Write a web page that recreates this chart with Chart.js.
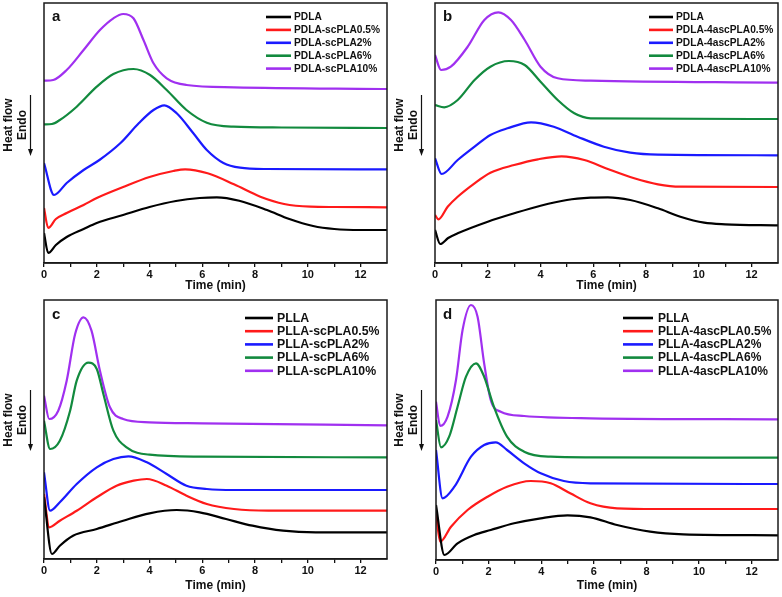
<!DOCTYPE html>
<html>
<head>
<meta charset="utf-8">
<script src="https://cdn.jsdelivr.net/npm/chart.js@4.4.1/dist/chart.umd.min.js"></script>
<style>
  html, body { margin: 0; padding: 0; background: #fff; }
  #wrap { position: relative; width: 782px; height: 597px; overflow: hidden; }
  .panel { position: absolute; }
</style>
</head>
<body>
<div id="wrap">
  <div class="panel" style="left:0;top:0;width:391px;height:297px"><canvas id="ca" width="391" height="297"></canvas></div>
  <div class="panel" style="left:391px;top:0;width:391px;height:297px"><canvas id="cb" width="391" height="297"></canvas></div>
  <div class="panel" style="left:0;top:297px;width:391px;height:300px"><canvas id="cc" width="391" height="300"></canvas></div>
  <div class="panel" style="left:391px;top:297px;width:391px;height:300px"><canvas id="cd" width="391" height="300"></canvas></div>
</div>
<script>
// ---------- Data (time in min, heat flow in arbitrary units) ----------
const xTickValues = [0, 2, 4, 6, 8, 10, 12];
const seriesColors = ['#000000', '#ff1a1a', '#1a1aff', '#128a3e', '#a030f0'];

// Panel a
const aLabels = ['PDLA', 'PDLA-scPLA0.5%', 'PDLA-scPLA2%', 'PDLA-scPLA6%', 'PDLA-scPLA10%'];
const a0_t = [0, 0.16, 0.45, 0.86, 1.5, 2, 3, 4, 5, 5.9, 6.55, 7.4, 8.45, 9.3, 10.2, 11, 12, 13];
const a0_v = [30, 10, 18, 26, 34, 40, 48, 56, 62, 65, 65.7, 62.3, 53, 44, 37, 34, 33, 33];
const a1_t = [0, 0.16, 0.45, 0.86, 1.5, 2, 3, 4, 4.9, 5.35, 6.2, 7.2, 8.2, 9.1, 10.1, 11, 13];
const a1_v = [55, 35, 44, 50, 58, 65, 76, 86, 92, 93.7, 89.7, 78.7, 66.3, 59, 56.3, 56, 55.7];
const a2_t = [0, 0.38, 0.86, 1.5, 2.1, 2.9, 3.6, 4.15, 4.56, 5.03, 5.66, 6.17, 6.8, 7.43, 8.4, 13];
const a2_v = [100, 68, 80, 93, 103, 120, 140, 153, 157.7, 149.7, 129.7, 113, 100, 95.3, 94, 93.7];
const a3_t = [0, 0.3, 0.6, 1.24, 2, 2.63, 3.39, 4.02, 4.65, 5.4, 6.17, 7.18, 9, 13];
const a3_v = [138.7, 139, 143, 156.3, 176.3, 189, 194, 188, 173, 153, 140.3, 136.3, 135.5, 135];
const a4_t = [0, 0.35, 0.86, 1.5, 2.12, 2.63, 3.0, 3.39, 3.77, 4.15, 4.65, 5.4, 7.2, 13];
const a4_v = [182.3, 183, 193, 213, 233, 244.7, 249, 244.7, 223, 199.7, 184.7, 178, 175.7, 174];

// Panel b
const bLabels = ['PDLA', 'PDLA-4ascPLA0.5%', 'PDLA-4ascPLA2%', 'PDLA-4ascPLA6%', 'PDLA-4ascPLA10%'];
const b0_t = [0, 0.2, 0.5, 0.86, 2, 3, 4, 5, 5.9, 6.55, 7.4, 8.45, 9.3, 10.2, 11, 13];
const b0_v = [33, 19, 25, 29.7, 41.3, 49.7, 57.3, 63, 65.3, 65.7, 63, 54.7, 46.3, 40.3, 38.7, 37.7];
const b1_t = [0, 0.13, 0.48, 0.86, 1.5, 2.1, 3, 3.9, 4.8, 5.66, 6.55, 7.55, 8.45, 9.3, 13];
const b1_v = [48, 43.7, 56.3, 66.3, 79.7, 90.3, 98, 103.7, 106.7, 103, 94, 84.7, 78.7, 76.3, 76];
const b2_t = [0, 0.25, 0.86, 1.5, 2.1, 2.75, 3.64, 4.5, 5.4, 6.4, 7.4, 8.45, 13];
const b2_v = [104.7, 89, 103, 116.3, 128, 134.7, 140.7, 136.3, 126.3, 116.3, 110.3, 108.3, 107.7];
const b3_t = [0, 0.35, 0.86, 1.5, 2.1, 2.8, 3.4, 4, 4.65, 5.28, 5.9, 13];
const b3_v = [158, 155.7, 163, 183, 196.3, 202, 198, 181.3, 163, 149.7, 144.7, 144];
const b4_t = [0, 0.23, 0.6, 1.24, 1.87, 2.4, 2.88, 3.4, 4, 4.65, 5.9, 13];
const b4_v = [208, 193, 196.3, 216.3, 243, 250.7, 243, 223, 196.3, 184.7, 182.3, 180.3];

// Panel c
const cLabels = ['PLLA', 'PLLA-scPLA0.5%', 'PLLA-scPLA2%', 'PLLA-scPLA6%', 'PLLA-scPLA10%'];
const c0_t = [0, 0.3, 0.6, 1.1, 2, 3, 4, 5.03, 5.9, 6.9, 7.9, 9.06, 10.3, 13];
const c0_v = [62, 5, 13.3, 23.3, 30, 38.3, 45.7, 49, 46.7, 40, 33.3, 28.3, 26.7, 26.7];
const c1_t = [0, 0.2, 0.6, 1.24, 2, 2.75, 3.4, 3.9, 4.65, 5.4, 6.17, 7.2, 8.5, 13];
const c1_v = [65, 31.7, 38.3, 48.3, 61.7, 73.3, 78.3, 80, 73.3, 63.3, 55, 50, 48.3, 48.3];
const c2_t = [0, 0.23, 0.6, 1.24, 2, 2.63, 3.2, 3.9, 4.65, 5.4, 6.17, 7.2, 13];
const c2_v = [86.7, 48.3, 56.7, 75, 91.7, 100, 102.7, 96.7, 85, 73.3, 70, 69, 69];
const c3_t = [0, 0.23, 0.6, 0.99, 1.24, 1.68, 2, 2.25, 2.63, 3.13, 4, 5.9, 13];
const c3_v = [138.3, 110, 118.3, 148.3, 178.3, 196.3, 190, 165, 128.3, 111.7, 104.3, 102.3, 101.7];
const c4_t = [0, 0.2, 0.54, 0.86, 1.18, 1.5, 1.8, 2.12, 2.5, 3, 4, 6, 13];
const c4_v = [163.3, 140, 148.3, 178.3, 225, 241.7, 228.3, 188.3, 151.7, 140, 136.7, 135.7, 133.7];

// Panel d
const dLabels = ['PLLA', 'PLLA-4ascPLA0.5%', 'PLLA-4ascPLA2%', 'PLLA-4ascPLA6%', 'PLLA-4ascPLA10%'];
const d0_t = [0, 0.32, 0.82, 1.45, 2.08, 2.97, 3.98, 5, 5.87, 6.88, 8.14, 9.4, 13];
const d0_v = [55, 5, 16.7, 25, 30, 36.7, 41.7, 44.7, 42.7, 35, 28.3, 25.7, 24.7];
const d1_t = [0, 0.16, 0.57, 1.2, 1.96, 2.7, 3.6, 4.36, 5.1, 5.87, 6.88, 8.4, 13];
const d1_v = [46.7, 18.3, 33.3, 50, 63.3, 73.3, 79, 76.7, 66.7, 56.7, 51.7, 51, 51];
const d2_t = [0, 0.25, 0.7, 1.33, 1.83, 2.27, 2.7, 3.35, 3.98, 4.86, 5.87, 13];
const d2_v = [110, 61.7, 73.3, 103.3, 115, 117.7, 110, 96.7, 86.7, 79, 76.7, 76];
const d3_t = [0, 0.19, 0.5, 0.82, 1.14, 1.52, 1.83, 2.2, 2.7, 3.35, 4.36, 5.87, 13];
const d3_v = [140, 112.7, 123.3, 153.3, 183.3, 196.7, 183.3, 153.3, 123.3, 108.3, 103.3, 102.7, 102.3];
const d4_t = [0, 0.16, 0.44, 0.76, 1.01, 1.33, 1.58, 1.83, 2.08, 2.46, 3.35, 5.87, 13];
const d4_v = [158.3, 134, 143.3, 180, 230, 255, 243.3, 196.7, 160, 148.3, 144, 141.7, 140.7];

// ---------- Helpers ----------
function pts(t, v) { return t.map((x, i) => ({ x: x, y: v[i] })); }
function makeDatasets(labels, series) {
  return series.map((s, i) => ({
    label: labels[i],
    data: pts(s[0], s[1]),
    borderColor: seriesColors[i],
    backgroundColor: seriesColors[i],
    borderWidth: 2.2,
    pointRadius: 0,
    fill: false,
    cubicInterpolationMode: 'monotone'
  }));
}

const framePlugin = {
  id: 'frame',
  afterDraw(chart) {
    const { ctx, chartArea: ca } = chart;
    ctx.save();
    ctx.strokeStyle = '#1a1a1a';
    ctx.lineWidth = 1.5;
    ctx.strokeRect(ca.left, ca.top, ca.right - ca.left, ca.bottom - ca.top);
    ctx.restore();
  }
};

const decoPlugin = {
  id: 'deco',
  afterDraw(chart, args, o) {
    const ctx = chart.ctx;
    ctx.save();
    // inner legend
    chart.data.datasets.forEach((ds, i) => {
      const y = o.y0 + i * o.dy;
      ctx.strokeStyle = ds.borderColor;
      ctx.lineWidth = 2.6;
      ctx.beginPath();
      ctx.moveTo(o.x1, y);
      ctx.lineTo(o.x2, y);
      ctx.stroke();
      ctx.fillStyle = '#111';
      ctx.font = o.font;
      ctx.textBaseline = 'middle';
      ctx.textAlign = 'left';
      ctx.fillText(ds.label, o.tx, y + 0.5);
    });
    // panel letter
    ctx.fillStyle = '#111';
    ctx.font = 'bold 15px Arial, "Liberation Sans", sans-serif';
    ctx.textBaseline = 'alphabetic';
    ctx.fillText(o.letter, o.lx, o.ly);
    // y axis label with arrow
    ctx.save();
    ctx.translate(8.5, o.yc);
    ctx.rotate(-Math.PI / 2);
    ctx.textAlign = 'center';
    ctx.textBaseline = 'middle';
    ctx.font = 'bold 12px Arial, "Liberation Sans", sans-serif';
    ctx.fillText('Heat flow', 0, 0);
    ctx.fillText('Endo', 0, 14);
    ctx.restore();
    ctx.strokeStyle = '#111';
    ctx.lineWidth = 1.2;
    ctx.beginPath();
    ctx.moveTo(30.5, o.yc - 30);
    ctx.lineTo(30.5, o.yc + 26);
    ctx.stroke();
    ctx.fillStyle = '#111';
    ctx.beginPath();
    ctx.moveTo(28, o.yc + 24);
    ctx.lineTo(33, o.yc + 24);
    ctx.lineTo(30.5, o.yc + 31);
    ctx.closePath();
    ctx.fill();
    ctx.restore();
  }
};

function makeChart(id, labels, series, cfg) {
  return new Chart(document.getElementById(id), {
    type: 'line',
    data: { datasets: makeDatasets(labels, series) },
    options: {
      responsive: false,
      animation: false,
      devicePixelRatio: 1,
      layout: { padding: { top: cfg.padTop, right: cfg.padRight, left: 0, bottom: 0 } },
      scales: {
        x: {
          type: 'linear',
          min: 0, max: 13,
          afterFit: (s) => { s.height = cfg.xHeight; },
          afterBuildTicks: (s) => {
            const arr = [];
            for (let i = 0; i <= 12; i++) arr.push({ value: i });
            s.ticks = arr;
          },
          ticks: {
            autoSkip: false,
            maxRotation: 0,
            padding: 1,
            color: '#111',
            font: { family: 'Arial, "Liberation Sans", sans-serif', size: 11, weight: 'bold' },
            callback: (v) => (xTickValues.includes(v) ? String(v) : '')
          },
          grid: { drawOnChartArea: false, drawTicks: true, tickLength: 4, color: '#111', tickColor: '#111', lineWidth: 1.3 },
          border: { display: true, color: '#1a1a1a', width: 1.5 },
          title: {
            display: true,
            text: 'Time (min)',
            color: '#111',
            padding: { top: 0, bottom: cfg.titlePad },
            font: { family: 'Arial, "Liberation Sans", sans-serif', size: 12, weight: 'bold' }
          }
        },
        y: {
          type: 'linear',
          min: 0, max: cfg.yMax,
          afterFit: (s) => { s.width = cfg.yWidth; },
          ticks: { display: false },
          grid: { display: false },
          border: { display: false }
        }
      },
      plugins: {
        legend: { display: false },
        tooltip: { enabled: false },
        deco: cfg.deco
      }
    },
    plugins: [framePlugin, decoPlugin]
  });
}

const bold10 = 'bold 10.2px Arial, "Liberation Sans", sans-serif';

makeChart('ca', aLabels, [[a0_t, a0_v], [a1_t, a1_v], [a2_t, a2_v], [a3_t, a3_v], [a4_t, a4_v]], {
  padTop: 3, padRight: 4, xHeight: 34, yWidth: 44, yMax: 260, titlePad: 4,
  deco: { x1: 266, x2: 291, tx: 294, y0: 17, dy: 12.9, font: bold10, letter: 'a', lx: 52, ly: 21, yc: 125 }
});
makeChart('cb', bLabels, [[b0_t, b0_v], [b1_t, b1_v], [b2_t, b2_v], [b3_t, b3_v], [b4_t, b4_v]], {
  padTop: 3, padRight: 4, xHeight: 34, yWidth: 44, yMax: 260, titlePad: 4,
  deco: { x1: 258, x2: 282, tx: 285, y0: 17, dy: 12.9, font: bold10, letter: 'b', lx: 52, ly: 21, yc: 125 }
});
makeChart('cc', cLabels, [[c0_t, c0_v], [c1_t, c1_v], [c2_t, c2_v], [c3_t, c3_v], [c4_t, c4_v]], {
  padTop: 3, padRight: 4, xHeight: 38, yWidth: 44, yMax: 259, titlePad: 4,
  deco: { x1: 245, x2: 273, tx: 277, y0: 21, dy: 13.2, font: 'bold 12.3px Arial, "Liberation Sans", sans-serif', letter: 'c', lx: 52, ly: 22, yc: 123 }
});
makeChart('cd', dLabels, [[d0_t, d0_v], [d1_t, d1_v], [d2_t, d2_v], [d3_t, d3_v], [d4_t, d4_v]], {
  padTop: 3, padRight: 4, xHeight: 37, yWidth: 45, yMax: 260, titlePad: 4,
  deco: { x1: 232, x2: 262, tx: 267, y0: 21, dy: 13.2, font: 'bold 12px Arial, "Liberation Sans", sans-serif', letter: 'd', lx: 52, ly: 22, yc: 123 }
});
</script>
</body>
</html>
